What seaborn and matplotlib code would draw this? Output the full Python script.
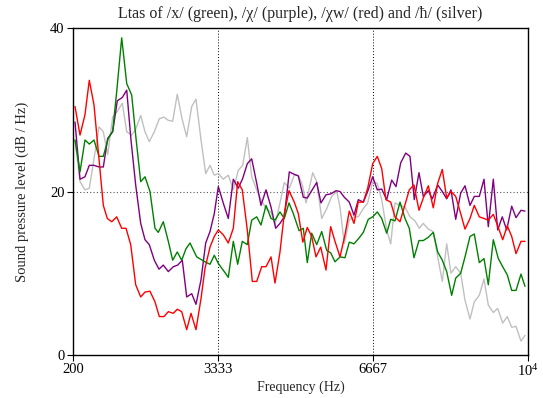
import matplotlib
matplotlib.use("Agg")
import matplotlib.pyplot as plt
import seaborn as sns
import pandas as pd

# ---- data (Hz, dB/Hz) ----
green_freq = [243, 351, 458, 551, 652, 760, 853, 960, 1055, 1141, 1249, 1357, 1464, 1557, 1658, 1751, 1858,
              1966, 2037, 2145, 2253, 2347, 2446, 2541, 2634, 2720, 2864, 3043, 3151, 3243, 3330, 3458, 3545,
              3653, 3747, 3846, 3954, 4049, 4157, 4249, 4357, 4465, 4551, 4658, 4751, 4852, 4945, 5070, 5160,
              5246, 5341, 5449, 5557, 5664, 5750, 5843, 5951, 6058, 6151, 6252, 6360, 6453, 6560, 6655, 6754,
              6849, 6956, 7043, 7135, 7243, 7351, 7443, 7544, 7652, 7745, 7853, 7960, 8055, 8154, 8249, 8356,
              8443, 8550, 8643, 8751, 8843, 8951, 9052, 9145, 9253, 9360, 9455, 9554, 9649, 9742, 9849, 9935]
green_spl = [26.3, 22.4, 26.3, 25.8, 26.3, 24.3, 24.3, 26.5, 27.4, 32.2, 38.8, 33.2, 31.8, 26.5, 21.2, 21.8, 20.0,
             15.5, 15.0, 16.3, 13.9, 11.6, 12.6, 11.6, 13.0, 13.7, 12.0, 11.4, 11.1, 12.2, 11.2, 10.2, 9.5,
             13.9, 11.1, 13.9, 13.5, 16.5, 16.9, 15.9, 18.3, 16.7, 16.5, 17.5, 16.7, 18.6, 17.3, 15.2, 15.5,
             11.3, 14.9, 13.5, 15.1, 12.8, 12.5, 11.4, 12.0, 11.9, 13.8, 13.6, 14.3, 15.0, 16.6, 16.9, 17.5,
             16.7, 14.9, 16.6, 16.4, 18.7, 16.7, 15.5, 11.9, 14.0, 14.0, 14.4, 15.0, 12.6, 11.6, 10.2, 7.3,
             9.4, 10.0, 12.0, 14.5, 14.8, 11.3, 11.8, 8.6, 14.1, 11.8, 10.8, 9.8, 7.9, 7.9, 9.9, 8.4]

red_freq = [243, 351, 458, 551, 652, 745, 853, 939, 1034, 1141, 1249, 1342, 1443, 1550, 1658, 1751, 1858,
            1966, 2059, 2160, 2253, 2360, 2446, 2541, 2649, 2742, 2849, 2957, 3043, 3151, 3243, 3330, 3437,
            3545, 3653, 3747, 3846, 3954, 4062, 4157, 4264, 4357, 4465, 4551, 4658, 4751, 4852, 4966, 5053,
            5150, 5246, 5341, 5434, 5535, 5649, 5750, 5843, 5951, 6058, 6151, 6252, 6345, 6453, 6547, 6655,
            6754, 6849, 6941, 7043, 7135, 7243, 7336, 7443, 7544, 7652, 7745, 7853, 7960, 8055, 8154, 8249,
            8341, 8443, 8550, 8643, 8751, 8843, 8951, 9052, 9145, 9253, 9360, 9455, 9554, 9649, 9742, 9849, 9935]
red_spl = [30.4, 26.9, 29.4, 33.6, 30.6, 24.9, 18.3, 16.7, 16.3, 16.9, 15.5, 15.5, 13.5, 8.6, 7.1, 7.7, 7.8,
           6.5, 4.7, 4.7, 5.3, 5.1, 5.6, 5.3, 3.1, 5.1, 3.1, 6.9, 10.6, 13.2, 14.5, 15.3, 14.7,
           13.7, 15.5, 21.2, 20.2, 15.3, 9.0, 9.0, 10.8, 10.8, 12.0, 8.8, 12.6, 17.3, 20.1, 18.7, 17.3,
           13.8, 15.6, 14.5, 12.0, 13.2, 10.4, 15.7, 13.9, 12.0, 14.7, 17.6, 16.1, 18.7, 18.7, 20.4, 23.4,
           24.3, 22.8, 19.0, 18.7, 16.9, 16.3, 18.1, 20.2, 20.8, 17.7, 19.2, 20.7, 18.0, 21.0, 22.7, 19.2,
           20.0, 19.4, 17.3, 15.4, 16.7, 18.3, 16.9, 16.7, 16.5, 17.2, 15.6, 14.1, 15.8, 14.5, 12.4, 13.9, 13.9]

purple_freq = [243, 351, 458, 551, 652, 760, 853, 947, 1055, 1154, 1262, 1357, 1449, 1550, 1658, 1751, 1843,
               1951, 2052, 2145, 2253, 2360, 2455, 2554, 2649, 2757, 2849, 2957, 3058, 3151, 3243, 3330, 3452,
               3545, 3653, 3760, 3855, 3954, 4049, 4157, 4249, 4357, 4465, 4566, 4658, 4751, 4859, 4966, 5053,
               5160, 5246, 5341, 5449, 5541, 5649, 5750, 5865, 5951, 6043, 6151, 6252, 6345, 6453, 6547, 6655,
               6754, 6849, 6956, 7064, 7157, 7258, 7366, 7458, 7551, 7652, 7745, 7853, 7939, 8055, 8154, 8249,
               8341, 8443, 8550, 8643, 8751, 8843, 8951, 9052, 9145, 9253, 9347, 9446, 9541, 9649, 9742, 9849, 9935]
purple_spl = [28.5, 21.5, 21.8, 23.2, 23.2, 23.0, 23.0, 26.5, 27.3, 31.1, 31.5, 32.4, 26.3, 20.8, 16.1, 14.1, 13.5,
              11.6, 10.5, 11.0, 10.2, 10.8, 11.0, 11.6, 7.1, 7.5, 6.2, 9.2, 13.7, 15.1, 17.3, 20.6, 18.3,
              16.7, 21.5, 20.4, 21.6, 23.4, 24.0, 21.0, 18.3, 20.2, 18.1, 15.5, 16.1, 16.9, 22.4, 22.1, 21.9,
              19.3, 19.2, 20.1, 21.1, 18.6, 19.6, 19.7, 20.1, 20.0, 19.3, 18.7, 17.1, 19.0, 18.7, 20.0, 21.8,
              20.2, 20.3, 19.0, 21.4, 20.6, 23.5, 24.7, 24.3, 19.0, 22.3, 19.4, 20.1, 19.1, 20.8, 20.0, 19.1,
              20.2, 16.6, 19.8, 20.7, 18.3, 19.4, 19.4, 21.5, 15.7, 21.5, 15.3, 16.9, 15.3, 18.2, 16.8, 17.7, 17.6]

silver_freq = [243, 351, 458, 551, 652, 760, 853, 947, 1055, 1154, 1262, 1357, 1464, 1557, 1658, 1751, 1843,
               1951, 2059, 2160, 2253, 2347, 2446, 2548, 2649, 2757, 2849, 2957, 3058, 3151, 3243, 3330, 3437,
               3545, 3653, 3760, 3855, 3954, 4049, 4157, 4249, 4357, 4465, 4551, 4658, 4751, 4859, 4966, 5053,
               5140, 5220, 5363, 5449, 5557, 5664, 5772, 5880, 5951, 6043, 6151, 6252, 6345, 6453, 6547, 6655,
               6754, 6849, 6956, 7043, 7135, 7243, 7351, 7458, 7566, 7659, 7745, 7853, 7960, 8055, 8154, 8249,
               8341, 8443, 8550, 8643, 8751, 8843, 8951, 9052, 9145, 9253, 9347, 9455, 9554, 9649, 9742, 9849, 9935]
silver_spl = [26.3, 21.2, 20.2, 20.4, 24.0, 27.9, 27.3, 24.5, 29.1, 29.8, 30.8, 27.3, 26.9, 27.7, 29.3, 27.3, 26.1,
              27.3, 28.9, 29.1, 28.7, 28.6, 31.9, 28.9, 26.7, 30.4, 31.3, 26.3, 22.2, 23.2, 22.0, 22.2, 21.5,
              22.0, 20.2, 22.6, 23.2, 26.6, 21.8, 20.2, 19.0, 17.9, 17.5, 15.9, 18.6, 21.1, 20.4, 22.0, 22.0,
              20.8, 18.6, 22.3, 21.2, 16.7, 17.9, 19.4, 20.0, 18.1, 13.6, 16.5, 16.9, 16.9, 17.9, 18.6, 21.2,
              21.0, 19.0, 15.3, 13.6, 18.6, 18.3, 18.1, 16.9, 16.4, 15.5, 16.1, 15.4, 15.1, 12.0, 9.0, 13.6,
              10.0, 10.8, 10.0, 6.7, 4.4, 6.5, 7.3, 9.3, 6.1, 5.2, 5.7, 3.9, 4.7, 3.4, 3.5, 1.7, 2.4]

x_ticks = [200, 3333, 6667, 10000]
x_ticklabels = ["200", "3333", "6667", r"$\mathregular{10^4}$"]
y_ticks = [0, 20, 40]
title = "Ltas of /x/ (green), /χ/ (purple), /χw/ (red) and /ħ/ (silver)"

series = [("silver", silver_freq, silver_spl, "#c0c0c0"),
          ("purple", purple_freq, purple_spl, "#800080"),
          ("green", green_freq, green_spl, "#008000"),
          ("red", red_freq, red_spl, "#ff0000")]

sns.set_style("ticks")
plt.rcParams["font.family"] = ["Liberation Serif", "DejaVu Serif"]
plt.rcParams["mathtext.fontset"] = "custom"
plt.rcParams["mathtext.rm"] = "Liberation Serif"

fig = plt.figure(figsize=(5.43, 3.98), dpi=100)
ax = fig.add_axes([73 / 543, 1 - 355 / 398, 455 / 543, 327 / 398])

for name, fr, sp, col in series:
    df = pd.DataFrame({"Frequency (Hz)": fr, "SPL": sp})
    sns.lineplot(data=df, x="Frequency (Hz)", y="SPL", color=col, linewidth=1.0,
                 estimator=None, sort=False, ax=ax)

ax.axvline(3333, color="black", linestyle=(0, (1, 2)), linewidth=0.7, zorder=0)
ax.axvline(6667, color="black", linestyle=(0, (1, 2)), linewidth=0.7, zorder=0)
ax.axhline(20, color="#555555", linestyle=(0, (1, 2)), linewidth=0.8, zorder=0)

ax.set_xlim(200, 10000)
ax.set_ylim(0, 40)
ax.set_xticks(x_ticks)
ax.set_xticklabels(x_ticklabels)
ax.set_yticks(y_ticks)
ax.tick_params(axis="both", direction="out", length=4, width=0.8, labelsize=10.5, colors="black", pad=2)
for s in ax.spines.values():
    s.set_visible(True)
    s.set_color("black")
    s.set_linewidth(1.0)

ax.set_xlabel("Frequency (Hz)", fontsize=10, labelpad=1)
ax.set_ylabel("Sound pressure level (dB / Hz)", fontsize=10.5, labelpad=15)
ax.set_title(title, fontsize=11.5, pad=7)

fig.savefig("out.png", dpi=100)
